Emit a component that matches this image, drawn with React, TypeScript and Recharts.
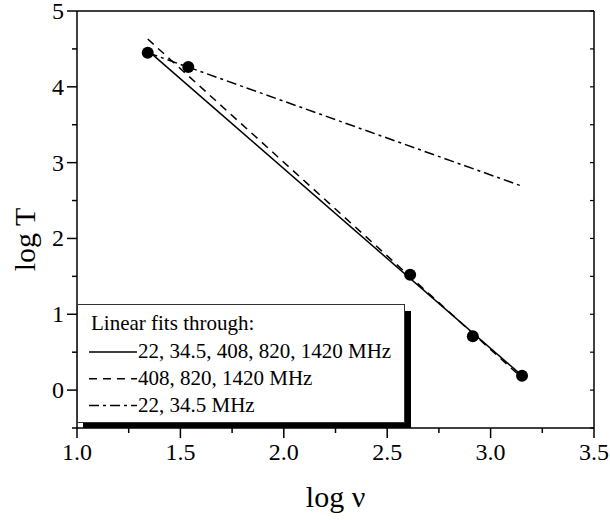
import { ComposedChart, Line, Scatter, XAxis, YAxis, Label } from "recharts";

// measured points: log of 22, 34.5, 408, 820, 1420 MHz
const LOG_NU = [1.342, 1.538, 2.611, 2.914, 3.152];
const LOG_T = [4.45, 4.26, 1.52, 0.71, 0.19];

// fit lines, end points
const FIT_X = [1.342, 3.152];
const FIT_ALL_Y = [4.48, 0.19];
const FIT_HIGH_Y = [4.63, 0.16];
const FIT_LOW_Y = [4.45, 2.69];

const X_TICKS = [1, 1.25, 1.5, 1.75, 2, 2.25, 2.5, 2.75, 3, 3.25, 3.5];
const Y_TICKS = [-0.5, 0, 0.5, 1, 1.5, 2, 2.5, 3, 3.5, 4, 4.5, 5];

const LEGEND_TITLE = "Linear fits through:";
const LEGEND_LABELS = [
  "22, 34.5, 408, 820, 1420 MHz",
  "408, 820, 1420 MHz",
  "22, 34.5 MHz",
];

const FONT = '"Liberation Serif", "Times New Roman", serif';
const DASHED = "8 6";
const DASH_DOT = "10 4 3 4";

const punkte = LOG_NU.map((x, i) => ({ x, y: LOG_T[i] }));
const fitAll = FIT_X.map((x, i) => ({ x, y: FIT_ALL_Y[i] }));
const fitHigh = FIT_X.map((x, i) => ({ x, y: FIT_HIGH_Y[i] }));
const fitLow = FIT_X.map((x, i) => ({ x, y: FIT_LOW_Y[i] }));

const isStep = (v: number, step: number) =>
  Math.abs(v / step - Math.round(v / step)) < 1e-6;

function BottomTick({ x, y, payload }: any) {
  const v = payload.value as number;
  const major = isStep(v, 0.5);
  return (
    <g>
      <line x1={x} x2={x} y1={y} y2={y + (major ? 10 : 5)} stroke="#000" strokeWidth={1.5} />
      {major && (
        <text x={x} y={y + 32} textAnchor="middle" fontSize={24} fontFamily={FONT} fill="#000">
          {v.toFixed(1)}
        </text>
      )}
    </g>
  );
}

function LeftTick({ x, y, payload }: any) {
  const v = payload.value as number;
  const major = isStep(v, 1);
  return (
    <g>
      <line x1={x - (major ? 10 : 5)} x2={x} y1={y} y2={y} stroke="#000" strokeWidth={1.5} />
      {major && (
        <text x={x - 13} y={y + 8} textAnchor="end" fontSize={24} fontFamily={FONT} fill="#000">
          {v}
        </text>
      )}
    </g>
  );
}

function TopTick({ x, y }: any) {
  return <line x1={x} x2={x} y1={y} y2={y + 4} stroke="#000" strokeWidth={1.2} />;
}

function RightTick({ x, y }: any) {
  return <line x1={x - 4} x2={x} y1={y} y2={y} stroke="#000" strokeWidth={1.2} />;
}

function XTitel({ viewBox }: any) {
  return (
    <text
      x={viewBox.x + viewBox.width / 2}
      y={viewBox.y + 79}
      textAnchor="middle"
      fontSize={30}
      fontFamily={FONT}
      fill="#000"
    >
      log ν
    </text>
  );
}

function YTitel({ viewBox }: any) {
  const x = viewBox.x + 35;
  const y = viewBox.y + viewBox.height / 2 + 20;
  return (
    <text
      x={x}
      y={y}
      transform={`rotate(-90, ${x}, ${y})`}
      textAnchor="middle"
      fontSize={30}
      fontFamily={FONT}
      fill="#000"
    >
      log T
    </text>
  );
}

function Legende() {
  const zeilen = [undefined, DASHED, DASH_DOT];
  return (
    <>
      <div
        style={{
          position: "absolute",
          left: 83,
          top: 311,
          width: 328,
          height: 117,
          background: "#000",
        }}
      />
      <svg
        width={328}
        height={119}
        style={{ position: "absolute", left: 77, top: 304, background: "#fff" }}
      >
        <rect x={0.5} y={0.5} width={327} height={118} fill="#fff" stroke="#333" strokeWidth={1} />
        <text x={14} y={26} fontSize={21} fontFamily={FONT} fill="#000">
          {LEGEND_TITLE}
        </text>
        {LEGEND_LABELS.map((label, i) => (
          <g key={label}>
            <line
              x1={12}
              x2={60}
              y1={48 + i * 26.8}
              y2={48 + i * 26.8}
              stroke="#000"
              strokeWidth={1.5}
              strokeDasharray={zeilen[i]}
            />
            <text x={61} y={54 + i * 27} fontSize={21} fontFamily={FONT} fill="#000">
              {label}
            </text>
          </g>
        ))}
      </svg>
    </>
  );
}

export default function App() {
  const achse = { stroke: "#000", strokeWidth: 1.5 };
  return (
    <div style={{ position: "absolute", left: 0, top: 0, width: 610, height: 520, background: "#fff" }}>
      <ComposedChart width={610} height={520} margin={{ top: 10, right: 15, bottom: 0, left: 0 }}>
        <XAxis
          dataKey="x"
          type="number"
          domain={[1, 3.5]}
          allowDataOverflow
          ticks={X_TICKS}
          interval={0}
          tickSize={0}
          tickMargin={0}
          tickLine={false}
          axisLine={achse}
          tick={<BottomTick />}
          height={92}
        >
          <Label content={<XTitel />} />
        </XAxis>
        <XAxis
          xAxisId="oben"
          orientation="top"
          type="number"
          domain={[1, 3.5]}
          allowDataOverflow
          ticks={X_TICKS}
          interval={0}
          tickSize={0}
          tickMargin={0}
          tickLine={false}
          axisLine={achse}
          tick={<TopTick />}
          height={1}
        />
        <YAxis
          type="number"
          domain={[-0.5, 5]}
          allowDataOverflow
          ticks={Y_TICKS}
          interval={0}
          tickSize={0}
          tickMargin={0}
          tickLine={false}
          axisLine={achse}
          tick={<LeftTick />}
          width={77}
        >
          <Label content={<YTitel />} />
        </YAxis>
        <YAxis
          yAxisId="rechts"
          orientation="right"
          type="number"
          domain={[-0.5, 5]}
          allowDataOverflow
          ticks={Y_TICKS}
          interval={0}
          tickSize={0}
          tickMargin={0}
          tickLine={false}
          axisLine={achse}
          tick={<RightTick />}
          width={1}
        />

        <Line
          data={fitAll}
          dataKey="y"
          type="linear"
          stroke="#000"
          strokeWidth={1.5}
          dot={false}
          isAnimationActive={false}
        />
        <Line
          data={fitHigh}
          dataKey="y"
          type="linear"
          stroke="#000"
          strokeWidth={1.5}
          strokeDasharray={DASHED}
          dot={false}
          isAnimationActive={false}
        />
        <Line
          data={fitLow}
          dataKey="y"
          type="linear"
          stroke="#000"
          strokeWidth={1.5}
          strokeDasharray={DASH_DOT}
          dot={false}
          isAnimationActive={false}
        />
        <Scatter
          data={punkte}
          dataKey="y"
          isAnimationActive={false}
          shape={(p: any) => <circle cx={p.cx} cy={p.cy} r={6} fill="#000" />}
        />
      </ComposedChart>
      <Legende />
    </div>
  );
}
